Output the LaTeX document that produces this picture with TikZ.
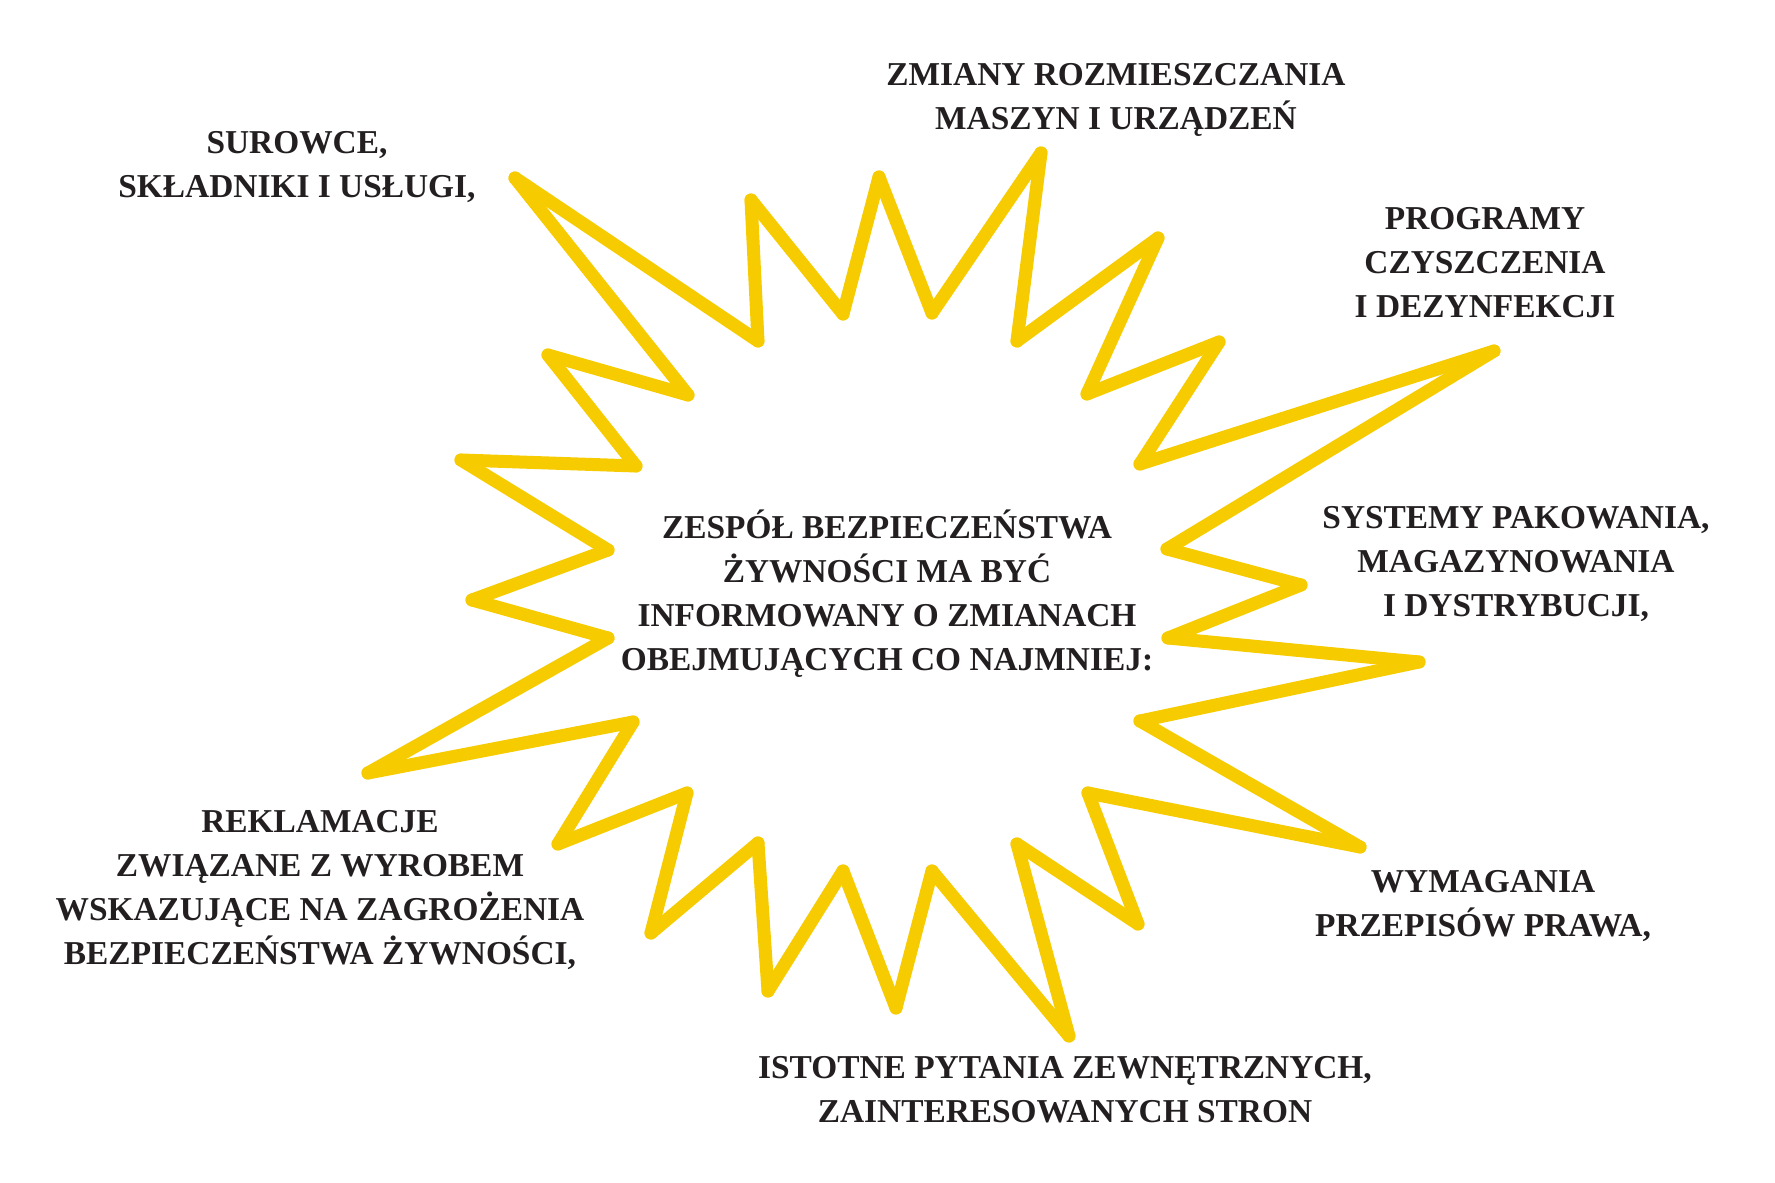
\documentclass[tikz,border=0pt]{standalone}
\usepackage{fontspec}
\setmainfont{Liberation Serif}
\definecolor{zolty}{RGB}{246,203,0}
\definecolor{czarny}{RGB}{35,31,32}

\begin{document}
\begin{tikzpicture}[x=0.1mm,y=-0.1mm,
    napis/.style={align=center,anchor=base,inner sep=0pt,text=czarny,
        font=\bfseries\fontsize{9.5}{12.6}\selectfont}]

    \useasboundingbox (0,0) rectangle (1775,1183);

    %wierzcholkiGwiazdy
    \coordinate (s1) at (515,178);
    \coordinate (s2) at (758,341);
    \coordinate (s3) at (751,200);
    \coordinate (s4) at (843,314);
    \coordinate (s5) at (879,177);
    \coordinate (s6) at (932,313);
    \coordinate (s7) at (1041,153);
    \coordinate (s8) at (1017,341);
    \coordinate (s9) at (1158,238);
    \coordinate (s10) at (1087,394);
    \coordinate (s11) at (1219,342);
    \coordinate (s12) at (1140,464);
    \coordinate (s13) at (1494,351);
    \coordinate (s14) at (1167,549);
    \coordinate (s15) at (1301,585);
    \coordinate (s16) at (1168,638);
    \coordinate (s17) at (1419,662);
    \coordinate (s18) at (1140,721);
    \coordinate (s19) at (1360,847);
    \coordinate (s20) at (1088,793);
    \coordinate (s21) at (1138,924);
    \coordinate (s22) at (1017,844);
    \coordinate (s23) at (1069,1036);
    \coordinate (s24) at (932,871);
    \coordinate (s25) at (896,1008);
    \coordinate (s26) at (843,871);
    \coordinate (s27) at (768,991);
    \coordinate (s28) at (758,843);
    \coordinate (s29) at (651,933);
    \coordinate (s30) at (687,793);
    \coordinate (s31) at (558,844);
    \coordinate (s32) at (633,722);
    \coordinate (s33) at (368,773);
    \coordinate (s34) at (608,638);
    \coordinate (s35) at (472,600);
    \coordinate (s36) at (608,550);
    \coordinate (s37) at (461,460);
    \coordinate (s38) at (636,466);
    \coordinate (s39) at (548,355);
    \coordinate (s40) at (688,395);

    %Gwiazda
    \foreach \x [evaluate={\y=int(mod(\x,40)+1);}] in {1,...,40}{
        \draw[line width=1.3mm,zolty,line cap=round,line join=round] (s\x) -- (s\y);
    }

    %Srodek
    \node[napis] (zespol) at (887,671) {ZESPÓŁ BEZPIECZEŃSTWA\\ŻYWNOŚCI MA BYĆ\\INFORMOWANY O ZMIANACH\\OBEJMUJĄCYCH CO NAJMNIEJ:};

    %Napisy
    \node[napis] (surowce) at (297,198) {SUROWCE,\\SKŁADNIKI I USŁUGI,};
    \node[napis] (zmiany) at (1116,130) {ZMIANY ROZMIESZCZANIA\\MASZYN I URZĄDZEŃ};
    \node[napis] (programy) at (1485,318) {PROGRAMY\\CZYSZCZENIA\\I DEZYNFEKCJI};
    \node[napis] (systemy) at (1516,617) {SYSTEMY PAKOWANIA,\\MAGAZYNOWANIA\\I DYSTRYBUCJI,};
    \node[napis] (wymagania) at (1483,937) {WYMAGANIA\\PRZEPISÓW PRAWA,};
    \node[napis] (pytania) at (1065,1123) {ISTOTNE PYTANIA ZEWNĘTRZNYCH,\\ZAINTERESOWANYCH STRON};
    \node[napis] (reklamacje) at (320,965) {REKLAMACJE\\ZWIĄZANE Z WYROBEM\\WSKAZUJĄCE NA ZAGROŻENIA\\BEZPIECZEŃSTWA ŻYWNOŚCI,};

\end{tikzpicture}
\end{document}
